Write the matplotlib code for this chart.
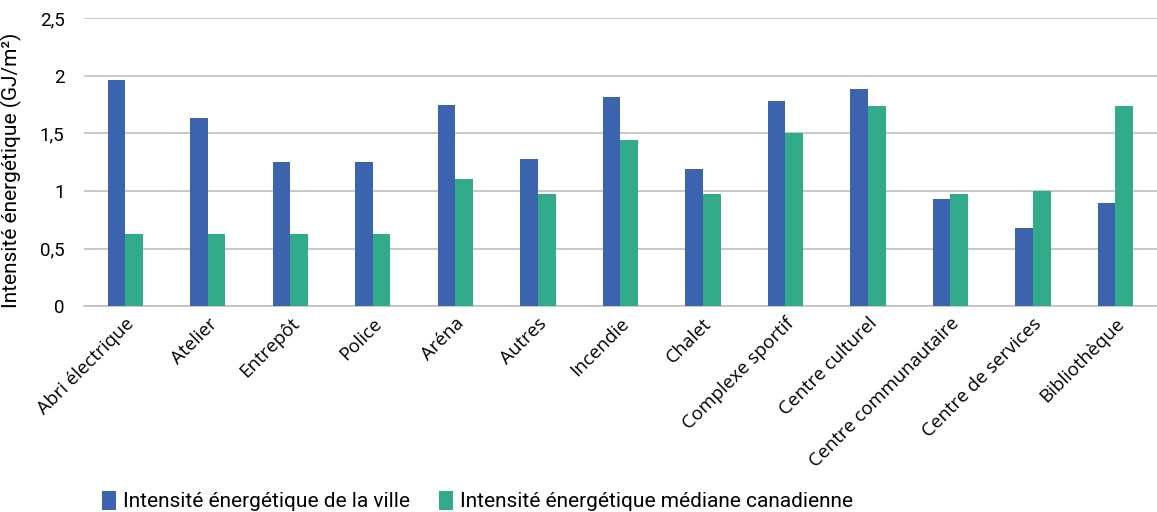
import matplotlib.pyplot as plt
import numpy as np

plt.rcParams['font.family'] = ['Roboto', 'DejaVu Sans']

categories = ["Abri électrique", "Atelier", "Entrepôt", "Police", "Aréna", "Autres",
              "Incendie", "Chalet", "Complexe sportif", "Centre culturel",
              "Centre communautaire", "Centre de services", "Bibliothèque"]
ville = [1.96, 1.63, 1.25, 1.25, 1.745, 1.276, 1.814, 1.19, 1.78, 1.884, 0.93, 0.677, 0.894]
mediane = [0.625, 0.625, 0.625, 0.625, 1.10, 0.97, 1.44, 0.97, 1.50, 1.736, 0.97, 1.0, 1.736]
yticks = [0, 0.5, 1, 1.5, 2, 2.5]
ytick_labels = ["0", "0,5", "1", "1,5", "2", "2,5"]

blue = '#3C63AE'
green = '#31AB8A'
grid_col = '#BFBFBF'

fig = plt.figure(figsize=(11.57, 5.12), dpi=100)
ax = fig.add_axes([0.0726, 0.402, 0.927, 0.563])

x = np.arange(len(categories))
w = 0.215
ax.bar(x - w/2, ville, w, color=blue, label="Intensité énergétique de la ville", zorder=3)
ax.bar(x + w/2, mediane, w, color=green, label="Intensité énergétique médiane canadienne", zorder=3)

ax.set_xlim(-0.5, len(categories) - 0.5)
ax.set_ylim(0, 2.5)
ax.set_yticks(yticks)
ax.set_yticklabels(ytick_labels, fontsize=13.5)
ax.set_xticks(x)
ax.set_xticklabels(categories, rotation=45, ha='right', rotation_mode='anchor',
                   fontsize=13.5, family=['Open Sans', 'DejaVu Sans'])
ax.tick_params(axis='both', length=0)
ax.tick_params(axis='y', pad=14)
ax.tick_params(axis='x', pad=6)
ax.grid(axis='y', color=grid_col, linewidth=1.2, zorder=0)
for s in ['top', 'right', 'left']:
    ax.spines[s].set_visible(False)
ax.spines['bottom'].set_color(grid_col)
ax.spines['bottom'].set_linewidth(1.2)
ax.set_ylabel("Intensité énergétique (GJ/m²)", fontsize=15)
ax.yaxis.set_label_coords(-0.058, 0.47)

fig.legend(loc='center left', bbox_to_anchor=(0.088, 0.021), ncol=2, frameon=False,
           fontsize=15, handlelength=0.7, handleheight=1.0, handletextpad=0.3,
           columnspacing=1.4, borderaxespad=0, borderpad=0)

fig.savefig('out.png', dpi=100)
